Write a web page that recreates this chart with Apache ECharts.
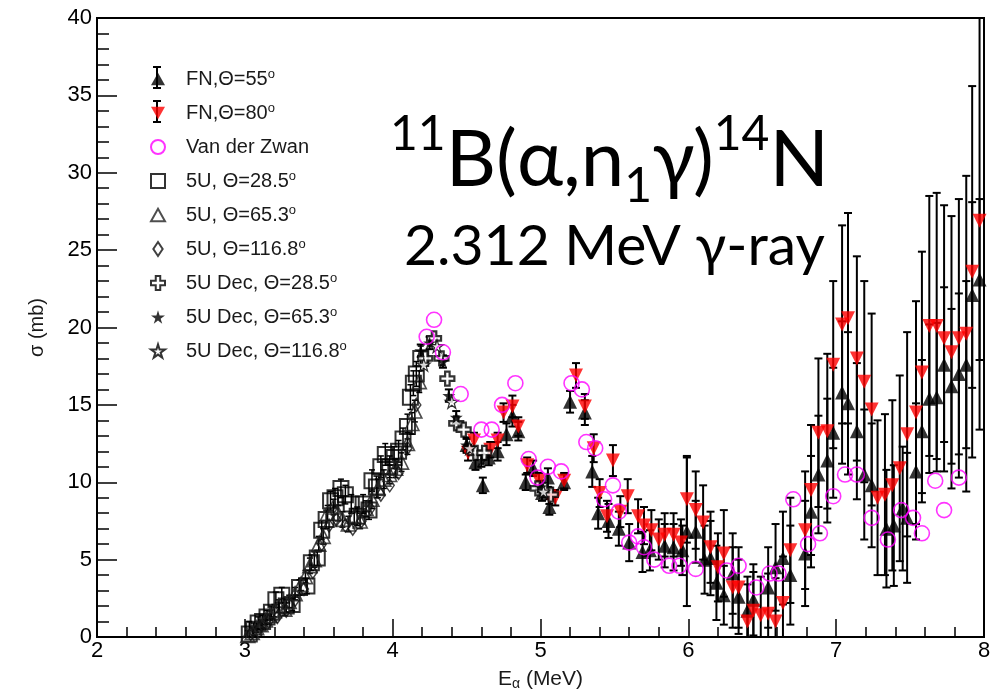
<!DOCTYPE html>
<html>
<head>
<meta charset="utf-8">
<script src="https://cdn.jsdelivr.net/npm/echarts@6/dist/echarts.min.js"></script>
<style>html,body{margin:0;padding:0;background:#fff;}#c{width:999px;height:692px;}</style>
</head>
<body>
<div id="c"></div>
<script>
// ---- data ----
const fn55E = [4.50,4.56,4.61,4.65,4.71,4.77,4.81,4.85,4.90,4.95,5.01,5.05,5.06,5.16,5.20,5.30,5.35,5.39,5.46,5.53,5.60,5.69,5.74,5.84,5.90,5.96,5.99,6.05,6.11,6.15,6.19,6.24,6.30,6.34,6.40,6.44,6.54,6.59,6.64,6.69,6.79,6.83,6.88,6.94,6.98,7.04,7.08,7.14,7.19,7.24,7.34,7.39,7.45,7.48,7.54,7.58,7.63,7.68,7.73,7.78,7.83,7.88,7.92,7.97];
const fn55Y = [12.4,11.3,9.8,11.6,12.0,13.1,14.3,13.3,10.0,10.9,9.3,10.3,8.4,10.0,15.2,14.5,10.7,8.0,7.5,7.0,6.1,5.5,5.6,5.9,5.8,5.6,6.8,6.8,5.0,5.1,3.5,2.7,4.1,2.6,1.7,2.4,3.2,4.5,5.1,4.0,5.4,8.1,10.5,11.4,13.2,15.8,15.1,13.3,10.5,9.8,7.0,7.2,8.3,7.7,10.7,13.3,15.4,15.5,17.6,16.2,17.0,17.6,22.1,23.1];
const fn55Err = [0.5,0.5,0.5,0.5,0.6,0.7,0.7,0.6,0.5,0.5,0.5,0.6,0.5,0.5,0.7,0.8,1.0,1.0,1.1,1.1,1.2,1.3,1.3,1.4,1.5,1.6,4.8,2.0,2.2,2.4,2.4,1.9,2.6,2.4,2.2,2.3,2.6,2.8,3.0,3.2,3.4,3.6,3.8,4.0,4.2,4.6,4.6,4.4,4.2,4.0,3.8,3.9,4.0,4.2,4.4,4.6,4.8,4.8,5.0,5.0,5.2,5.4,6.0,5.2];

const fn80E = [4.51,4.55,4.66,4.71,4.75,4.81,4.85,4.91,4.99,5.06,5.10,5.16,5.24,5.30,5.36,5.40,5.45,5.49,5.54,5.59,5.66,5.70,5.75,5.80,5.84,5.90,5.95,5.99,6.05,6.10,6.15,6.20,6.24,6.30,6.34,6.40,6.44,6.49,6.54,6.59,6.64,6.69,6.79,6.83,6.88,6.94,6.98,7.04,7.08,7.14,7.19,7.24,7.28,7.33,7.38,7.43,7.48,7.54,7.58,7.63,7.68,7.73,7.78,7.83,7.88,7.92,7.97];
const fn80Y = [11.9,12.7,12.1,12.7,14.5,14.9,13.6,11.1,10.1,9.1,9.0,10.1,16.9,14.9,12.2,9.3,7.8,11.4,8.1,9.1,7.8,7.2,6.9,6.3,6.6,6.6,6.1,8.9,8.2,7.4,5.8,4.5,5.4,3.2,3.2,1.0,1.7,1.4,1.5,1.0,2.2,5.6,6.9,9.5,13.2,13.3,17.6,20.2,20.6,18.0,16.5,14.7,9.0,9.2,9.8,10.9,13.1,14.5,17.1,20.1,20.1,19.3,18.4,19.3,19.6,23.6,26.9];
const fn80Err = [0.5,0.5,0.5,0.5,0.6,0.7,0.6,0.5,0.5,0.5,0.5,0.5,0.8,0.8,0.9,0.9,1.0,1.0,1.0,1.1,1.1,1.2,1.3,1.3,1.4,1.4,1.5,2.8,2.5,2.4,2.3,2.2,2.8,2.6,2.6,2.4,2.5,2.5,2.6,2.8,3.0,3.4,3.8,4.2,4.8,5.0,5.4,6.4,6.8,6.6,6.5,6.2,5.0,5.2,5.5,6.0,6.6,7.2,7.8,8.4,8.6,8.6,8.8,9.0,10.2,12.0,13.5];

const vdzE = [4.23,4.28,4.34,4.46,4.60,4.67,4.74,4.83,4.92,4.98,5.05,5.14,5.21,5.28,5.31,5.37,5.43,5.49,5.53,5.60,5.66,5.70,5.77,5.87,5.94,6.05,6.26,6.34,6.46,6.55,6.61,6.71,6.81,6.89,6.98,7.06,7.14,7.24,7.35,7.44,7.52,7.58,7.67,7.73,7.83];
const vdzY = [19.4,20.5,18.4,15.7,13.4,13.4,15.0,16.4,11.5,10.3,11.0,10.7,16.4,16.0,12.6,12.2,8.9,9.8,8.1,6.1,6.5,5.8,5.0,4.6,4.6,4.4,4.3,4.6,3.2,4.1,4.1,8.9,6.0,6.7,9.1,10.5,10.5,7.7,6.3,8.2,7.7,6.7,10.1,8.2,10.3];

const u28E = [3.03,3.06,3.09,3.12,3.15,3.18,3.21,3.25,3.28,3.32,3.37,3.42,3.45,3.49,3.52,3.55,3.58,3.61,3.65,3.68,3.72,3.76,3.80,3.84,3.86,3.89,3.92,3.95,3.98,4.01,4.04,4.07,4.10,4.12,4.14,4.16,4.19];
const u28Y = [0.2,0.5,0.9,1.0,1.3,1.6,2.4,2.7,2.0,2.1,3.2,3.3,4.8,5.1,6.9,7.6,8.8,9.0,9.6,9.2,8.6,7.8,8.6,8.2,10.1,9.7,11.0,11.8,11.0,11.6,12.0,12.8,13.6,15.5,16.4,17.0,18.0];
const u28Err = [0.8,0.4,0.4,0.4,0.4,0.4,0.5,0.5,0.4,0.4,0.5,0.5,0.5,0.5,0.6,0.6,0.6,0.6,0.6,0.6,0.6,0.6,0.6,0.6,0.7,0.7,0.7,0.7,0.7,0.7,0.7,0.7,0.8,0.8,0.8,0.8,0.8];

const u65E = [3.02,3.05,3.08,3.11,3.14,3.17,3.20,3.23,3.27,3.30,3.34,3.38,3.41,3.44,3.47,3.50,3.53,3.56,3.60,3.63,3.66,3.70,3.74,3.78,3.82,3.86,3.90,3.94,3.98,4.02,4.06,4.10,4.13,4.15,4.18];
const u65Y = [0.1,0.3,0.6,0.8,1.1,1.4,1.7,2.0,1.8,2.3,2.8,3.4,3.9,4.6,5.0,6.0,6.5,8.0,8.4,8.0,7.6,7.3,7.8,7.5,8.3,8.9,9.6,10.2,10.5,10.9,11.3,12.5,13.8,14.6,16.5];
const u65Err = [0.3,0.3,0.3,0.3,0.3,0.3,0.4,0.4,0.4,0.4,0.4,0.4,0.4,0.5,0.5,0.5,0.5,0.5,0.5,0.5,0.5,0.5,0.5,0.5,0.5,0.6,0.6,0.6,0.6,0.6,0.6,0.7,0.7,0.7,0.7];

const u117E = [3.04,3.10,3.16,3.22,3.28,3.34,3.40,3.46,3.52,3.57,3.62,3.68,3.73,3.79,3.85,3.92,3.98,4.04,4.10,4.16];
const u117Y = [0.2,0.6,1.0,1.3,1.7,2.4,3.1,4.2,6.0,7.2,7.6,7.2,7.0,7.5,8.3,9.2,9.8,10.6,12.2,15.0];

const dec28E = [4.22,4.28,4.33,4.37,4.43,4.48,4.56,4.62,4.98,5.03,5.07];
const dec28Y = [18.0,19.3,18.0,16.7,13.8,13.4,11.9,11.9,9.6,9.5,9.2];
const dec65E = [4.19,4.25,4.34,4.38,4.43,4.50,4.60,5.00];
const dec65Y = [18.5,19.0,17.8,15.6,14.2,12.4,11.4,9.7];
const dec65Err = [0.4,0.4,0.4,0.4,0.4,0.4,0.4,0.4];
const dec117E = [4.21,4.30,4.40,4.52,5.02];
const dec117Y = [17.6,18.8,15.2,12.2,9.4];

const seriesNames = ['FN,Θ=55°','FN,Θ=80°','Van der Zwan','5U, Θ=28.5°','5U, Θ=65.3°','5U, Θ=116.8°','5U Dec, Θ=28.5°','5U Dec, Θ=65.3°','5U Dec, Θ=116.8°'];

// ---- helpers ----
const pts = (E, Y) => E.map((e, i) => [e, Y[i]]);
const bars = (E, Y, R) => E.map((e, i) => [e, Y[i] - R[i], Y[i] + R[i]]);

const STAR = 'path://M50,0 L61,35 L98,35 L68,57 L79,91 L50,70 L21,91 L32,57 L2,35 L39,35 Z';
const CROSS = 'path://M34,0 L66,0 L66,34 L100,34 L100,66 L66,66 L66,100 L34,100 L34,66 L0,66 L0,34 L34,34 Z';
const DIAM = 'path://M40,0 L80,60 L40,120 L0,60 Z';
const DOWN = 'path://M0,0 L100,0 L50,90 Z';
const UP = 'path://M50,0 L100,90 L0,90 Z';

function errSeries(name, data, w, cw) {
  return {
    name: name, type: 'custom', data: data, clip: true, z: 2, silent: true,
    renderItem: function (params, api) {
      const x = api.value(0);
      const lo = api.coord([x, api.value(1)]);
      const hi = api.coord([x, api.value(2)]);
      const st = { stroke: '#000', lineWidth: w };
      return { type: 'group', children: [
        { type: 'line', shape: { x1: lo[0], y1: lo[1], x2: hi[0], y2: hi[1] }, style: st },
        { type: 'line', shape: { x1: lo[0] - cw, y1: lo[1], x2: lo[0] + cw, y2: lo[1] }, style: st },
        { type: 'line', shape: { x1: hi[0] - cw, y1: hi[1], x2: hi[0] + cw, y2: hi[1] }, style: st }
      ]};
    }
  };
}

const chart = echarts.init(document.getElementById('c'), null, { renderer: 'canvas' });
const FONT = 'Liberation Sans, Arial, sans-serif';
const barLine = (x1, y1, x2, y2) => ({ type: 'line', shape: { x1, y1, x2, y2 }, style: { stroke: '#000', lineWidth: 2 } });

chart.setOption({
  animation: false,
  backgroundColor: '#fff',
  grid: { left: 97, right: 15, top: 18, bottom: 55, containLabel: false, outerBoundsMode: 'none',
    show: true, borderColor: '#000', borderWidth: 2, backgroundColor: 'transparent' },
  title: [
    { text: '{sup|11}B(α,n{sub|1}γ){sup|14}N', left: 385, top: 106,
      textStyle: { fontFamily: 'Lato', fontSize: 78, fontWeight: 'normal', color: '#000', lineHeight: 100,
        rich: { sup: { fontFamily: 'Lato', fontSize: 48, lineHeight: 80, verticalAlign: 'top', color: '#000' },
                sub: { fontFamily: 'Lato', fontSize: 48, lineHeight: 60, verticalAlign: 'bottom', color: '#000' } } } },
    { text: '2.312 MeV γ-ray', left: 399, top: 213,
      textStyle: { fontFamily: 'Lato', fontSize: 57, fontWeight: 'normal', color: '#000' } }
  ],
  legend: {
    orient: 'vertical', left: 145, top: 63, itemWidth: 14, itemHeight: 14, itemGap: 12,
    selectedMode: false, z: 5,
    data: [
      { name: seriesNames[0], icon: UP },
      { name: seriesNames[1], icon: DOWN },
      { name: seriesNames[2], icon: 'circle' },
      { name: seriesNames[3], icon: 'rect' },
      { name: seriesNames[4], icon: UP },
      { name: seriesNames[5], icon: DIAM },
      { name: seriesNames[6], icon: CROSS },
      { name: seriesNames[7], icon: STAR },
      { name: seriesNames[8], icon: STAR }
    ],
    formatter: function (n) { return n.replace('°', '{sup|o}'); },
    textStyle: { fontFamily: FONT, fontSize: 20, color: '#1a1a1a', lineHeight: 22, padding: [0, 0, 0, 16],
      rich: { sup: { fontFamily: FONT, fontSize: 13, lineHeight: 13, verticalAlign: 'top', color: '#1a1a1a' } } }
  },
  graphic: [
    { type: 'group', z: 1, children: [
      barLine(157, 67, 157, 88), barLine(153, 67, 161, 67), barLine(153, 88, 161, 88),
      barLine(157, 101, 157, 122), barLine(153, 101, 161, 101), barLine(153, 122, 161, 122)
    ]}
  ],
  xAxis: {
    type: 'value', min: 2, max: 8, interval: 1,
    name: 'E{sub|α} (MeV)', nameLocation: 'middle', nameGap: 27,
    nameTextStyle: { fontFamily: FONT, fontSize: 21, color: '#1a1a1a', lineHeight: 24,
      rich: { sub: { fontFamily: FONT, fontSize: 14, verticalAlign: 'bottom', lineHeight: 16, color: '#1a1a1a' } } },
    axisLine: { onZero: false, lineStyle: { color: '#000', width: 2 } },
    axisTick: { inside: true, length: 18, lineStyle: { color: '#000', width: 1.5 } },
    minorTick: { show: true, splitNumber: 5, length: 10, lineStyle: { color: '#000', width: 1.5 } },
    splitLine: { show: false },
    axisLabel: { fontFamily: FONT, fontSize: 22, color: '#000', margin: 3 }
  },
  yAxis: {
    type: 'value', min: 0, max: 40, interval: 5,
    name: 'σ (mb)', nameLocation: 'middle', nameGap: 50, nameRotate: 90,
    nameTextStyle: { fontFamily: FONT, fontSize: 20, color: '#1a1a1a' },
    axisLine: { onZero: false, lineStyle: { color: '#000', width: 2 } },
    axisTick: { inside: true, length: 20, lineStyle: { color: '#000', width: 1.5 } },
    minorTick: { show: true, splitNumber: 5, length: 12, lineStyle: { color: '#000', width: 1.5 } },
    splitLine: { show: false },
    axisLabel: { fontFamily: FONT, fontSize: 22, color: '#000', margin: 5 }
  },
  series: [
    errSeries('u28err', bars(u28E, u28Y, u28Err), 1.5, 3),
    errSeries('u65err', bars(u65E, u65Y, u65Err), 1.5, 3),
    { name: seriesNames[3], type: 'scatter', data: pts(u28E, u28Y), symbol: 'rect', symbolSize: 15, z: 3,
      itemStyle: { color: 'rgba(255,255,255,0)', borderColor: '#000', borderWidth: 2 } },
    { name: seriesNames[4], type: 'scatter', data: pts(u65E, u65Y), symbol: UP, symbolSize: 14, z: 3,
      itemStyle: { color: 'rgba(255,255,255,0)', borderColor: '#222', borderWidth: 1.6 } },
    { name: seriesNames[5], type: 'scatter', data: pts(u117E, u117Y), symbol: DIAM, symbolSize: [9, 13], z: 3,
      itemStyle: { color: 'rgba(255,255,255,0)', borderColor: '#111', borderWidth: 1.5 } },
    errSeries('fn55err', bars(fn55E, fn55Y, fn55Err), 2, 4),
    errSeries('fn80err', bars(fn80E, fn80Y, fn80Err), 2, 4),
    errSeries('dec65err', bars(dec65E, dec65Y, dec65Err), 2, 4),
    { name: seriesNames[0], type: 'scatter', data: pts(fn55E, fn55Y), symbol: UP, symbolSize: 14, z: 4,
      itemStyle: { color: '#000' } },
    { name: seriesNames[1], type: 'scatter', data: pts(fn80E, fn80Y), symbol: DOWN, symbolSize: 14, z: 4,
      itemStyle: { color: '#ff0000' } },
    { name: seriesNames[6], type: 'scatter', data: pts(dec28E, dec28Y), symbol: CROSS, symbolSize: 14, z: 5,
      itemStyle: { color: '#fff', borderColor: '#000', borderWidth: 2.2 } },
    { name: seriesNames[7], type: 'scatter', data: pts(dec65E, dec65Y), symbol: STAR, symbolSize: 13, z: 5,
      itemStyle: { color: '#000' } },
    { name: seriesNames[8], type: 'scatter', data: pts(dec117E, dec117Y), symbol: STAR, symbolSize: 13, z: 5,
      itemStyle: { color: '#fff', borderColor: '#000', borderWidth: 1.2 } },
    { name: seriesNames[2], type: 'scatter', data: pts(vdzE, vdzY), symbol: 'circle', symbolSize: 15, z: 6,
      itemStyle: { color: 'rgba(255,255,255,0)', borderColor: '#ff00ff', borderWidth: 1.6 } }
  ]
});
</script>
</body>
</html>
